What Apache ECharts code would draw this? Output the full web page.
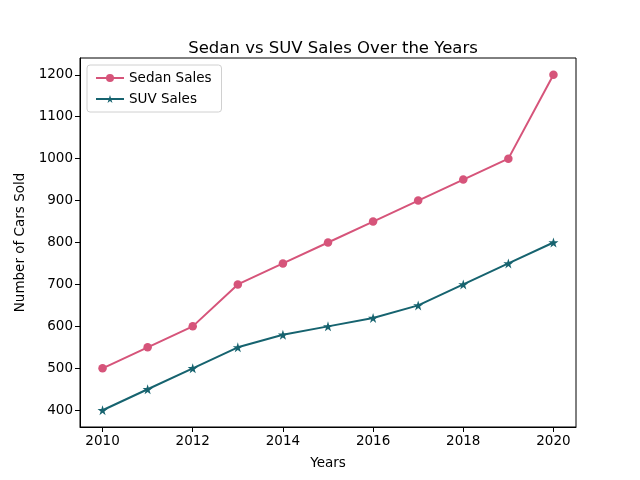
<!DOCTYPE html>
<html>
  <head>
    <meta charset="utf-8">
    <title>Sedan vs SUV Sales</title>
    <script src="https://cdn.jsdelivr.net/npm/echarts@6/dist/echarts.min.js"></script>
    <style>
      body { margin: 0; background: #fff; }
    </style>
  </head>
  <body>
    <div id="main" style="width: 640px;height:480px;"></div>
  <script type="text/javascript">
  var years = [2010, 2011, 2012, 2013, 2014, 2015, 2016, 2017, 2018, 2019, 2020];
  var sedanSales = [500, 550, 600, 700, 750, 800, 850, 900, 950, 1000, 1200];
  var suvSales = [400, 450, 500, 550, 580, 600, 620, 650, 700, 750, 800];
  var xTicks = [2010, 2012, 2014, 2016, 2018, 2020];
  var yTicks = [400, 500, 600, 700, 800, 900, 1000, 1100, 1200];

  var star = 'path://M50 0 L61.23 34.55 L97.55 34.55 L68.17 55.9 L79.39 90.45 L50 69.1 L20.61 90.45 L31.83 55.9 L2.45 34.55 L38.77 34.55 Z';
  var font = 'DejaVu Sans';

  function pairs(xs, ys) {
    return xs.map(function (x, i) { return [x, ys[i]]; });
  }
  function plain(v) { return String(v); }

  var myChart = echarts.init(document.getElementById('main'));

  var option = {
    backgroundColor: '#fff',
    animation: false,
    textStyle: { fontFamily: font },
    title: {
      text: 'Sedan vs SUV Sales Over the Years',
      left: 328,
      textAlign: 'center',
      top: 35,
      textStyle: { fontFamily: font, fontSize: 16.5, fontWeight: 'normal', color: '#000' }
    },
    legend: {
      orient: 'vertical',
      left: 87,
      top: 65,
      padding: [6, 10, 6, 8],
      itemGap: 7,
      itemWidth: 28,
      itemHeight: 10,
      backgroundColor: '#fff',
      borderColor: '#d0d0d0',
      borderWidth: 1,
      borderRadius: 3,
      textStyle: { fontFamily: font, fontSize: 13.5, color: '#000' },
      data: ['Sedan Sales', 'SUV Sales']
    },
    grid: {
      left: 80, right: 64, top: 58, bottom: 53,
      show: true,
      borderColor: '#000',
      borderWidth: 1
    },
    xAxis: {
      type: 'value',
      min: 2009.5,
      max: 2020.5,
      name: 'Years',
      nameLocation: 'middle',
      nameGap: 29,
      nameTextStyle: { fontFamily: font, fontSize: 13.5, color: '#000' },
      splitLine: { show: false },
      axisLine: { show: true, lineStyle: { color: '#000' } },
      axisTick: { show: true, length: 5, customValues: xTicks, lineStyle: { color: '#000' } },
      axisLabel: { customValues: xTicks, formatter: plain, fontFamily: font, fontSize: 13.5, color: '#000', margin: 7 }
    },
    yAxis: {
      type: 'value',
      min: 360,
      max: 1240,
      name: 'Number of Cars Sold',
      nameLocation: 'middle',
      nameGap: 52,
      nameTextStyle: { fontFamily: font, fontSize: 13.5, color: '#000' },
      splitLine: { show: false },
      axisLine: { show: true, lineStyle: { color: '#000' } },
      axisTick: { show: true, length: 5, customValues: yTicks, lineStyle: { color: '#000' } },
      axisLabel: { customValues: yTicks, formatter: plain, fontFamily: font, fontSize: 13.5, color: '#000', margin: 7 }
    },
    series: [
      {
        name: 'Sedan Sales',
        type: 'line',
        data: pairs(years, sedanSales),
        symbol: 'circle',
        symbolSize: 8.5,
        color: '#d6547a',
        lineStyle: { width: 2, color: '#d6547a' },
        itemStyle: { color: '#d6547a' }
      },
      {
        name: 'SUV Sales',
        type: 'line',
        data: pairs(years, suvSales),
        symbol: star,
        symbolSize: 10,
        color: '#16636f',
        lineStyle: { width: 2, color: '#16636f' },
        itemStyle: { color: '#16636f' }
      }
    ]
  };
  myChart.setOption(option);
  </script>
  </body>
</html>
